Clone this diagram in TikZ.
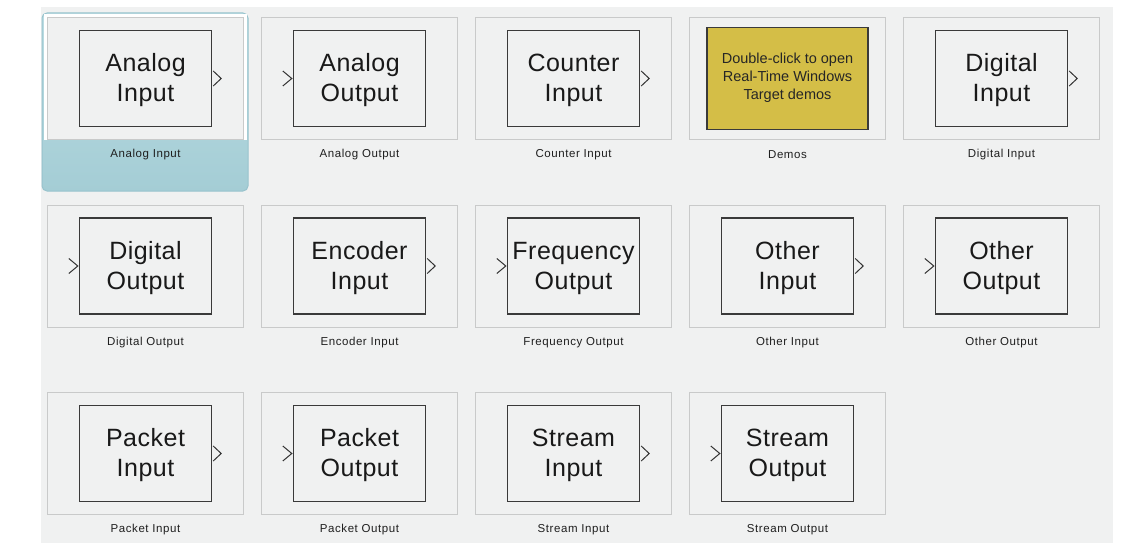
\documentclass[tikz,border=0pt]{standalone}
\usepackage{fontspec}
\setmainfont{Liberation Sans}
\newfontfamily\labelfont[LetterSpace=5]{Liberation Sans}
\newfontfamily\blockfont[LetterSpace=2]{Liberation Sans}
\definecolor{panel}{HTML}{F0F1F1}
\definecolor{tileborder}{HTML}{C9CACA}
\definecolor{blockborder}{HTML}{3A3A3A}
\definecolor{demofill}{HTML}{D4BE47}
\definecolor{seltop}{HTML}{BCDDE3}
\definecolor{selbot}{HTML}{A4CDD5}
\definecolor{seledge}{HTML}{98C3CD}
\tikzset{
  tilebox/.style={draw=tileborder, line width=1pt, fill=panel, minimum width=196pt, minimum height=122pt, inner sep=0pt, anchor=north west},
  blockbox/.style={draw=blockborder, line width=1.4pt, minimum width=132pt, minimum height=96pt, inner sep=0pt},
  demobox/.style={draw=blockborder, line width=1.4pt, fill=demofill, minimum width=161pt, minimum height=102pt, inner sep=0pt},
  blocktxt/.style={align=center, font=\blockfont\fontsize{25}{30}\selectfont, text=black!90, inner sep=0pt},
  demotxt/.style={align=center, font=\fontsize{14.5}{18}\selectfont, text=black!85, inner sep=0pt},
  tilelabel/.style={font=\labelfont\fontsize{11.5}{13}\selectfont, text=black!88, inner sep=0pt},
  portline/.style={draw=black!80, line width=1pt},
}
\newcommand\outport[1]{\draw[portline] ([shift={(1pt,7.5pt)}]#1.east) -- ([shift={(9pt,0pt)}]#1.east) -- ([shift={(1pt,-7.5pt)}]#1.east);}
\newcommand\inport[1]{\draw[portline] ([shift={(-10pt,7.5pt)}]#1.west) -- ([shift={(-1pt,0pt)}]#1.west) -- ([shift={(-10pt,-7.5pt)}]#1.west);}
% #1 name, #2 x, #3 y, #4 line1, #5 line2, #6 label, #7 port (out/in)
\newcommand\mytile[7]{%
  \node[tilebox] (#1) at (#2,#3) {};
  \node[blockbox] (#1b) at (#1.center) {};
  \node[blocktxt] (#1t) at ([yshift=-2pt]#1b.center) {#4\\#5};
  \node[tilelabel] (#1l) at ([yshift=-76.5pt]#1.center) {#6};
  \csname #7port\endcsname{#1b}%
}
\begin{document}
\begin{tikzpicture}[x=1pt,y=-1pt]
  \useasboundingbox (0,0) rectangle (1140,543);
  \fill[white] (0,0) rectangle (1140,543);
  \fill[panel] (41,7) rectangle (1113,543);
  % selection highlight
  \shade[top color=seltop, bottom color=selbot, draw=seledge, line width=1pt, rounded corners=5pt] (42,13) rectangle (248,191);
  \fill[white] (43.5,14.5) rectangle (246.5,139.5);
  % row 1
  \mytile{ai}{47}{17}{Analog}{Input}{Analog Input}{out}
  \mytile{ao}{261}{17}{Analog}{Output}{Analog Output}{in}
  \mytile{ci}{475}{17}{Counter}{Input}{Counter Input}{out}
  \node[tilebox] (dm) at (689,17) {};
  \node[demobox] (dmb) at (dm.center) {};
  \node[demotxt] (dmt) at ([yshift=1pt]dmb.center) {Double-click to open\\Real-Time Windows\\Target demos};
  \node[tilelabel] (dml) at ([yshift=-76.5pt]dm.center) {Demos};
  \mytile{di}{903}{17}{Digital}{Input}{Digital Input}{out}
  % row 2
  \mytile{do}{47}{204.5}{Digital}{Output}{Digital Output}{in}
  \mytile{ei}{261}{204.5}{Encoder}{Input}{Encoder Input}{out}
  \mytile{fo}{475}{204.5}{Frequency}{Output}{Frequency Output}{in}
  \mytile{oi}{689}{204.5}{Other}{Input}{Other Input}{out}
  \mytile{oo}{903}{204.5}{Other}{Output}{Other Output}{in}
  % row 3
  \mytile{pi}{47}{392}{Packet}{Input}{Packet Input}{out}
  \mytile{po}{261}{392}{Packet}{Output}{Packet Output}{in}
  \mytile{si}{475}{392}{Stream}{Input}{Stream Input}{out}
  \mytile{so}{689}{392}{Stream}{Output}{Stream Output}{in}
\end{tikzpicture}
\end{document}
